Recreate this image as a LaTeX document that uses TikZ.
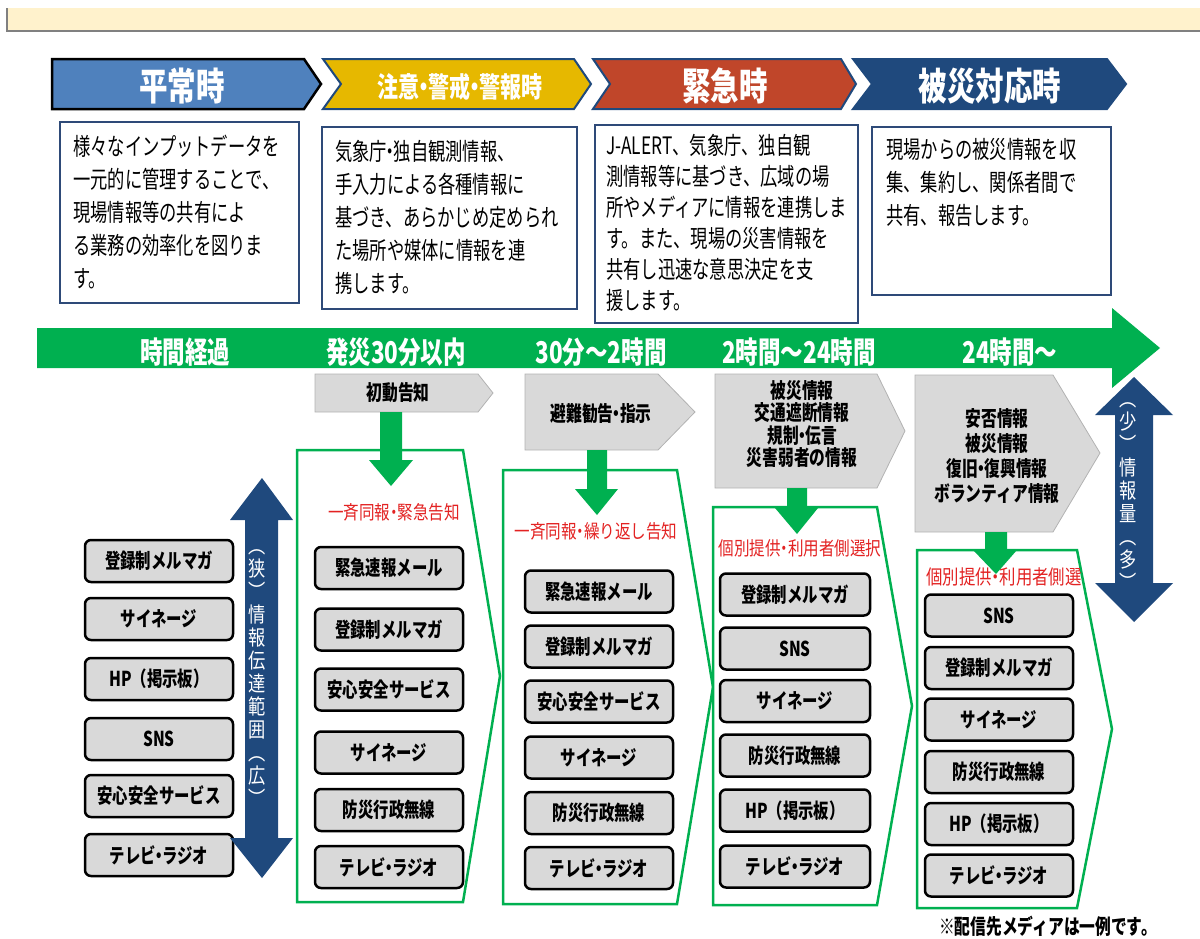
\documentclass[tikz,border=0pt]{standalone}
\usepackage{fontspec}
\newfontfamily\jp{Noto Sans CJK JP}[FakeStretch=0.82]
\newfontfamily\jpd{Noto Sans CJK JP}[FakeStretch=0.72]
\newfontfamily\jpc{Noto Sans CJK JP}[FakeStretch=0.75]
\newcommand\nkg{\kern-0.22em・\kern-0.22em}
\definecolor{band}{HTML}{FFF2CC}
\definecolor{hblue}{HTML}{4F81BD}
\definecolor{hgold}{HTML}{E6B800}
\definecolor{hred}{HTML}{C0462A}
\definecolor{navy}{HTML}{1F497D}
\definecolor{tlgreen}{HTML}{00B050}
\definecolor{boxgray}{HTML}{D9D9D9}
\definecolor{lblred}{HTML}{E32222}
\definecolor{dboxblue}{HTML}{2E4A78}
\tikzset{
  hdrshape/.style={draw=navy, line width=2pt, line join=miter},
  hdr/.style={font=\jpc\bfseries\fontsize{38}{42}\selectfont, text=white, inner sep=0pt},
  hdrs/.style={font=\jpc\bfseries\fontsize{28}{30}\selectfont, text=white, inner sep=0pt},
  dbox/.style={draw=dboxblue, line width=2pt, fill=white},
  dtxt/.style={font=\jpd\fontsize{24}{33}\selectfont, align=left, anchor=north west, inner sep=0pt},
  tl/.style={font=\jpc\bfseries\fontsize{30}{32}\selectfont, text=white, inner sep=0pt},
  gpent/.style={fill=boxgray, draw=gray!60, line width=0.8pt},
  info/.style={font=\jpc\bfseries\fontsize{21}{23}\selectfont, align=center, inner sep=0pt},
  cont/.style={draw=tlgreen, line width=2.5pt, fill=white, line join=miter},
  blk/.style={fill=tlgreen},
  redlbl/.style={font=\jp\fontsize{19}{22}\selectfont, text=lblred, inner sep=0pt},
  media/.style={draw=black, line width=2.5pt, fill=boxgray, rounded corners=6pt,
    minimum width=148pt, minimum height=42pt, inner sep=0pt,
    font=\jpc\bfseries\fontsize{20.5}{22}\selectfont},
  dbl/.style={fill=navy},
  vtxt/.style={font=\jp\fontsize{21}{23}\selectfont, text=white, align=center, inner sep=0pt},
  foot/.style={font=\jpc\bfseries\fontsize{21}{23}\selectfont, inner sep=0pt},
}
\begin{document}
\begin{tikzpicture}[x=1pt,y=-1pt]
\useasboundingbox (0,0) rectangle (1200,938);
% top band
\fill[band] (7,8) rectangle (1200,30);
\draw[gray, line width=2pt] (7,8) -- (7,31) -- (1200,31);

% phase headers
\draw[fill=hblue, draw=black, line width=2.5pt, line join=miter]
  (52,59) -- (304,59) -- (321,84) -- (304,109) -- (52,109) -- cycle;
\node[hdr] (h1) at (182,86) {平常時};
\draw[hdrshape, fill=hgold]
  (323,59) -- (574,59) -- (591,84) -- (574,109) -- (323,109) -- (341,84) -- cycle;
\node[hdrs] (h2) at (460,87) {注意\nkg 警戒\nkg 警報時};
\draw[hdrshape, fill=hred]
  (593,59) -- (841,59) -- (856,84) -- (841,109) -- (593,109) -- (610,84) -- cycle;
\node[hdr] (h3) at (725,86) {緊急時};
\draw[hdrshape, fill=navy]
  (853,59) -- (1107,59) -- (1126,84) -- (1107,109) -- (853,109) -- (872,84) -- cycle;
\node[hdr] (h4) at (990,86) {被災対応時};

% description boxes
\draw[dbox] (60,122) rectangle (299,303);
\node[dtxt] (d1) at (73,135) {様々なインプットデータを\\一元的に管理することで、\\現場情報等の共有によ\\る業務の効率化を図りま\\す。};
\draw[dbox] (322,127) rectangle (577,309);
\node[dtxt] (d2) at (335,140) {気象庁\nkg 独自観測情報、\\手入力による各種情報に\\基づき、あらかじめ定められ\\た場所や媒体に情報を連\\携します。};
\draw[dbox] (595,125) rectangle (858,323);
\node[dtxt, font=\jpd\fontsize{24}{31}\selectfont] (d3) at (606,134) {J-ALERT、気象庁、独自観\\測情報等に基づき、広域の場\\所やメディアに情報を連携しま\\す。また、現場の災害情報を\\共有し迅速な意思決定を支\\援します。};
\draw[dbox] (872,127) rectangle (1111,295);
\node[dtxt] (d4) at (886,138) {現場からの被災情報を収\\集、集約し、関係者間で\\共有、報告します。};

% timeline arrow
\fill[tlgreen] (37,328) -- (1112,328) -- (1112,308) -- (1160,348) -- (1112,388) -- (1112,368) -- (37,368) -- cycle;
\node[tl] (t0) at (185,352) {時間経過};
\node[tl] (t1) at (396,352) {発災30分以内};
\node[tl] (t2) at (601,352) {30分～2時間};
\node[tl] (t3) at (799,352) {2時間～24時間};
\node[tl] (t4) at (1010,352) {24時間～};

% containers
\draw[cont] (297,450) -- (463,450) -- (500,676) -- (463,902) -- (297,902) -- cycle;
\draw[cont] (503,470) -- (677,470) -- (713,687) -- (677,904) -- (503,904) -- cycle;
\draw[cont] (713,507) -- (877,507) -- (912,706) -- (877,905) -- (713,905) -- cycle;
\draw[cont] (917,550) -- (1077,550) -- (1112,729) -- (1077,908) -- (917,908) -- cycle;

% gray info pentagons
\draw[gpent] (315,374) -- (478,374) -- (493,393) -- (478,412) -- (315,412) -- cycle;
\node[info] (p1) at (398,393) {初動告知};
\draw[gpent] (525,374) -- (658,374) -- (695,412) -- (658,450) -- (525,450) -- cycle;
\node[info] (p2) at (601,414) {避難勧告\nkg 指示};
\draw[gpent] (715,374) -- (877,374) -- (905,431) -- (877,488) -- (715,488) -- cycle;
\node[info, font=\jpc\bfseries\fontsize{21}{22.5}\selectfont] (p3) at (802,424) {被災情報\\交通遮断情報\\規制\nkg 伝言\\災害弱者の情報};
\draw[gpent] (915,375) -- (1053,375) -- (1100,453) -- (1053,532) -- (915,532) -- cycle;
\node[info, font=\jpc\bfseries\fontsize{21}{25}\selectfont] (p4) at (997,456) {安否情報\\被災情報\\復旧\nkg 復興情報\\ボランティア情報};

% red labels
\node[redlbl] (l1) at (394,512) {一斉同報\nkg 緊急告知};
\node[redlbl] (l2) at (596,531) {一斉同報\nkg 繰り返し告知};
\node[redlbl] (l3) at (800,548) {個別提供\nkg 利用者側選択};
\node[redlbl, font=\jp\fontsize{20}{22}\selectfont] (l4) at (1004,577) {個別提供\nkg 利用者側選};

% green block arrows
\fill[blk] (380,412) -- (402,412) -- (402,460) -- (413,460) -- (391,486) -- (369,460) -- (380,460) -- cycle;
\fill[blk] (587,450) -- (607,450) -- (607,489) -- (618,489) -- (597,515) -- (575,489) -- (587,489) -- cycle;
\fill[blk] (787,488) -- (807,488) -- (807,508) -- (818,508) -- (797,534) -- (775,508) -- (787,508) -- cycle;
\fill[blk] (985,532) -- (1007,532) -- (1007,550) -- (1017,550) -- (996,574) -- (973,550) -- (985,550) -- cycle;

% media boxes
\foreach \y/\t [count=\i] in {561/登録制メルマガ, 619/サイネージ, 679/HP（掲示板）, 739/SNS, 796/安心安全サービス, 855/テレビ\nkg ラジオ}
  \node[media] (m0-\i) at (159,\y) {\t};
\foreach \y/\t [count=\i] in {568/緊急速報メール, 629.5/登録制メルマガ, 689.5/安心安全サービス, 752.5/サイネージ, 810/防災行政無線, 867/テレビ\nkg ラジオ}
  \node[media] (m1-\i) at (389,\y) {\t};
\foreach \y/\t [count=\i] in {591.5/緊急速報メール, 646.5/登録制メルマガ, 701.5/安心安全サービス, 757.5/サイネージ, 813/防災行政無線, 868/テレビ\nkg ラジオ}
  \node[media] (m2-\i) at (599,\y) {\t};
\foreach \y/\t [count=\i] in {594.5/登録制メルマガ, 648.5/SNS, 701/サイネージ, 755.5/防災行政無線, 810.5/HP（掲示板）, 866.5/テレビ\nkg ラジオ}
  \node[media, minimum width=150pt] (m3-\i) at (795,\y) {\t};
\foreach \y/\t [count=\i] in {615.5/SNS, 668/登録制メルマガ, 719.5/サイネージ, 772/防災行政無線, 824/HP（掲示板）, 875.5/テレビ\nkg ラジオ}
  \node[media] (m4-\i) at (999,\y) {\t};

% left double arrow (information range)
\fill[dbl] (262,478) -- (293,520) -- (278,520) -- (278,838) -- (293,838) -- (262,878) -- (230,838) -- (245,838) -- (245,520) -- (230,520) -- cycle;
\node[vtxt] (vl) at (257,678) {︵\\狭\\︶\\情\\報\\伝\\達\\範\\囲\\︵\\広\\︶};

% right double arrow (information amount)
\fill[dbl] (1134,377) -- (1173,415) -- (1153,415) -- (1153,583) -- (1173,583) -- (1134,622) -- (1095,583) -- (1115,583) -- (1115,415) -- (1095,415) -- cycle;
\node[vtxt] (vr) at (1128,497) {︵\\少\\︶\\情\\報\\量\\︵\\多\\︶};

% footnote
\node[foot] (fn) at (1048,926) {※配信先メディアは一例です。};
\end{tikzpicture}
\end{document}
